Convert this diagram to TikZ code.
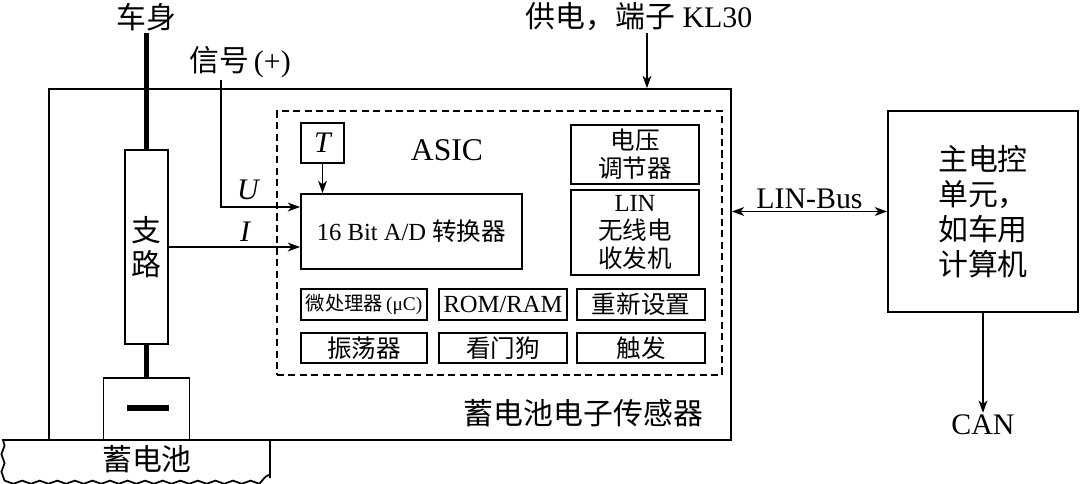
\documentclass[tikz,border=0pt]{standalone}
\usepackage{fontspec}
\setmainfont{Liberation Serif}
\newfontfamily\cjk{Noto Sans CJK SC}
\usetikzlibrary{arrows.meta,decorations.pathmorphing}
\newcommand{\zh}[1]{{\cjk #1}}

\begin{document}
\begin{tikzpicture}[x=0.02cm, y=-0.02cm,
  box/.style={draw, line width=1pt, inner sep=1pt, align=center, font=\fontsize{14}{16}\selectfont},
  cell/.style={box, minimum height=0.62cm},
  lbl/.style={font=\fontsize{17}{20}\selectfont, inner sep=1pt, align=center},
  var/.style={lbl, font=\fontsize{17}{20}\selectfont\itshape},
  arrow/.style={->, line width=1pt, >={Stealth[length=7pt, width=5pt, inset=2pt]}},
  post/.style={line width=2.8pt},
]
\useasboundingbox (0,0) rectangle (1080,484);

% Sensor housing and ASIC
\node[draw, line width=1pt, minimum width=13.64cm, minimum height=7.02cm] (sensor) at (390,264.5) {};
\node[draw, line width=0.9pt, dash pattern=on 4pt off 2.5pt, minimum width=8.9cm, minimum height=5.28cm] (asic) at (499.5,243) {};
\node[lbl, font=\fontsize{18}{20}\selectfont] (asiclbl) at (447,150) {ASIC};
\node[lbl, anchor=east] (senslbl) at (705,413) {\zh{蓄电池电子传感器}};

\node[box, minimum width=0.86cm, minimum height=0.8cm, font=\fontsize{17}{20}\selectfont\itshape] (temp) at (322.5,143) {T};
\node[box, minimum width=4.42cm, minimum height=1.5cm] (adc) at (411.5,231.5) {16 Bit A/D \zh{转换器}};
\node[box, minimum width=2.56cm, minimum height=1.18cm] (vreg) at (635,154.5) {\zh{电压}\\\zh{调节器}};
\node[box, minimum width=2.56cm, minimum height=1.7cm] (lin) at (635,232.5) {LIN\\\zh{无线电}\\\zh{收发机}};

\node[cell, minimum width=2.52cm, font=\fontsize{11}{13}\selectfont] (mcu) at (364,304.5) {\zh{微处理器}\,(μC)};
\node[cell, minimum width=2.56cm] (mem) at (503,304.5) {ROM/RAM};
\node[cell, minimum width=2.56cm] (reset) at (641,304.5) {\zh{重新设置}};
\node[cell, minimum width=2.52cm, minimum height=0.6cm] (osc) at (364,348) {\zh{振荡器}};
\node[cell, minimum width=2.56cm, minimum height=0.6cm] (wdog) at (503,348) {\zh{看门狗}};
\node[cell, minimum width=2.56cm, minimum height=0.6cm] (trig) at (641,348) {\zh{触发}};

\draw[arrow] (temp.south) -- (temp.south |- adc.north);

% Shunt and battery
\node[lbl] (body) at (146.5,17) {\zh{车身}};
\node[box, minimum width=0.86cm, minimum height=3.88cm, font=\fontsize{17}{19}\selectfont] (shunt) at (146.5,247) {\zh{支}\\\zh{路}};
\node[box, minimum width=1.72cm, minimum height=1.24cm] (term) at (146.5,409) {};
\node[fill, minimum width=0.86cm, minimum height=0.12cm, inner sep=0pt] (minus) at (148,408) {};
\draw[post] (body) -- (shunt);
\draw[post] (shunt) -- (term);

\draw[line width=1pt] (270,478) -- (270,440) -- (3,440)
  decorate[decoration={snake, amplitude=0.9pt, segment length=10pt}] {-- (3,475) -- (270,475)};
\node[lbl] (batt) at (147,459) {\zh{蓄电池}};

% Measured signals
\node[lbl] (sig) at (240,62) {\zh{信号}\,(+)};
\coordinate (ubend) at (221,207);
\draw[arrow] (ubend |- sig.south) -- (ubend) -- (ubend -| adc.west);
\node[var] (ulbl) at (248,190) {U};
\draw[arrow] (shunt.east) -- (shunt.east -| adc.west);
\node[var] (ilbl) at (245,232) {I};

% Supply
\node[lbl] (kl30) at (639,17) {\zh{供电，端子}~KL30};
\coordinate (kin) at (647,0);
\draw[arrow] (kin |- kl30.south) -- (kin |- sensor.north);

% Main control unit
\node[box, minimum width=3.8cm, minimum height=4.02cm, font=\fontsize{17}{20}\selectfont] (ecu) at (983,211.5) {\zh{主电控}\\\zh{单元，}\\\zh{如车用}\\\zh{计算机}};
\draw[arrow, <->] (ecu.west -| sensor.east) -- (ecu.west) node[lbl, midway, above] (linbus) {LIN-Bus};
\node[lbl] (can) at (983,425) {CAN};
\draw[arrow] (ecu) -- (can);

\end{tikzpicture}
\end{document}
